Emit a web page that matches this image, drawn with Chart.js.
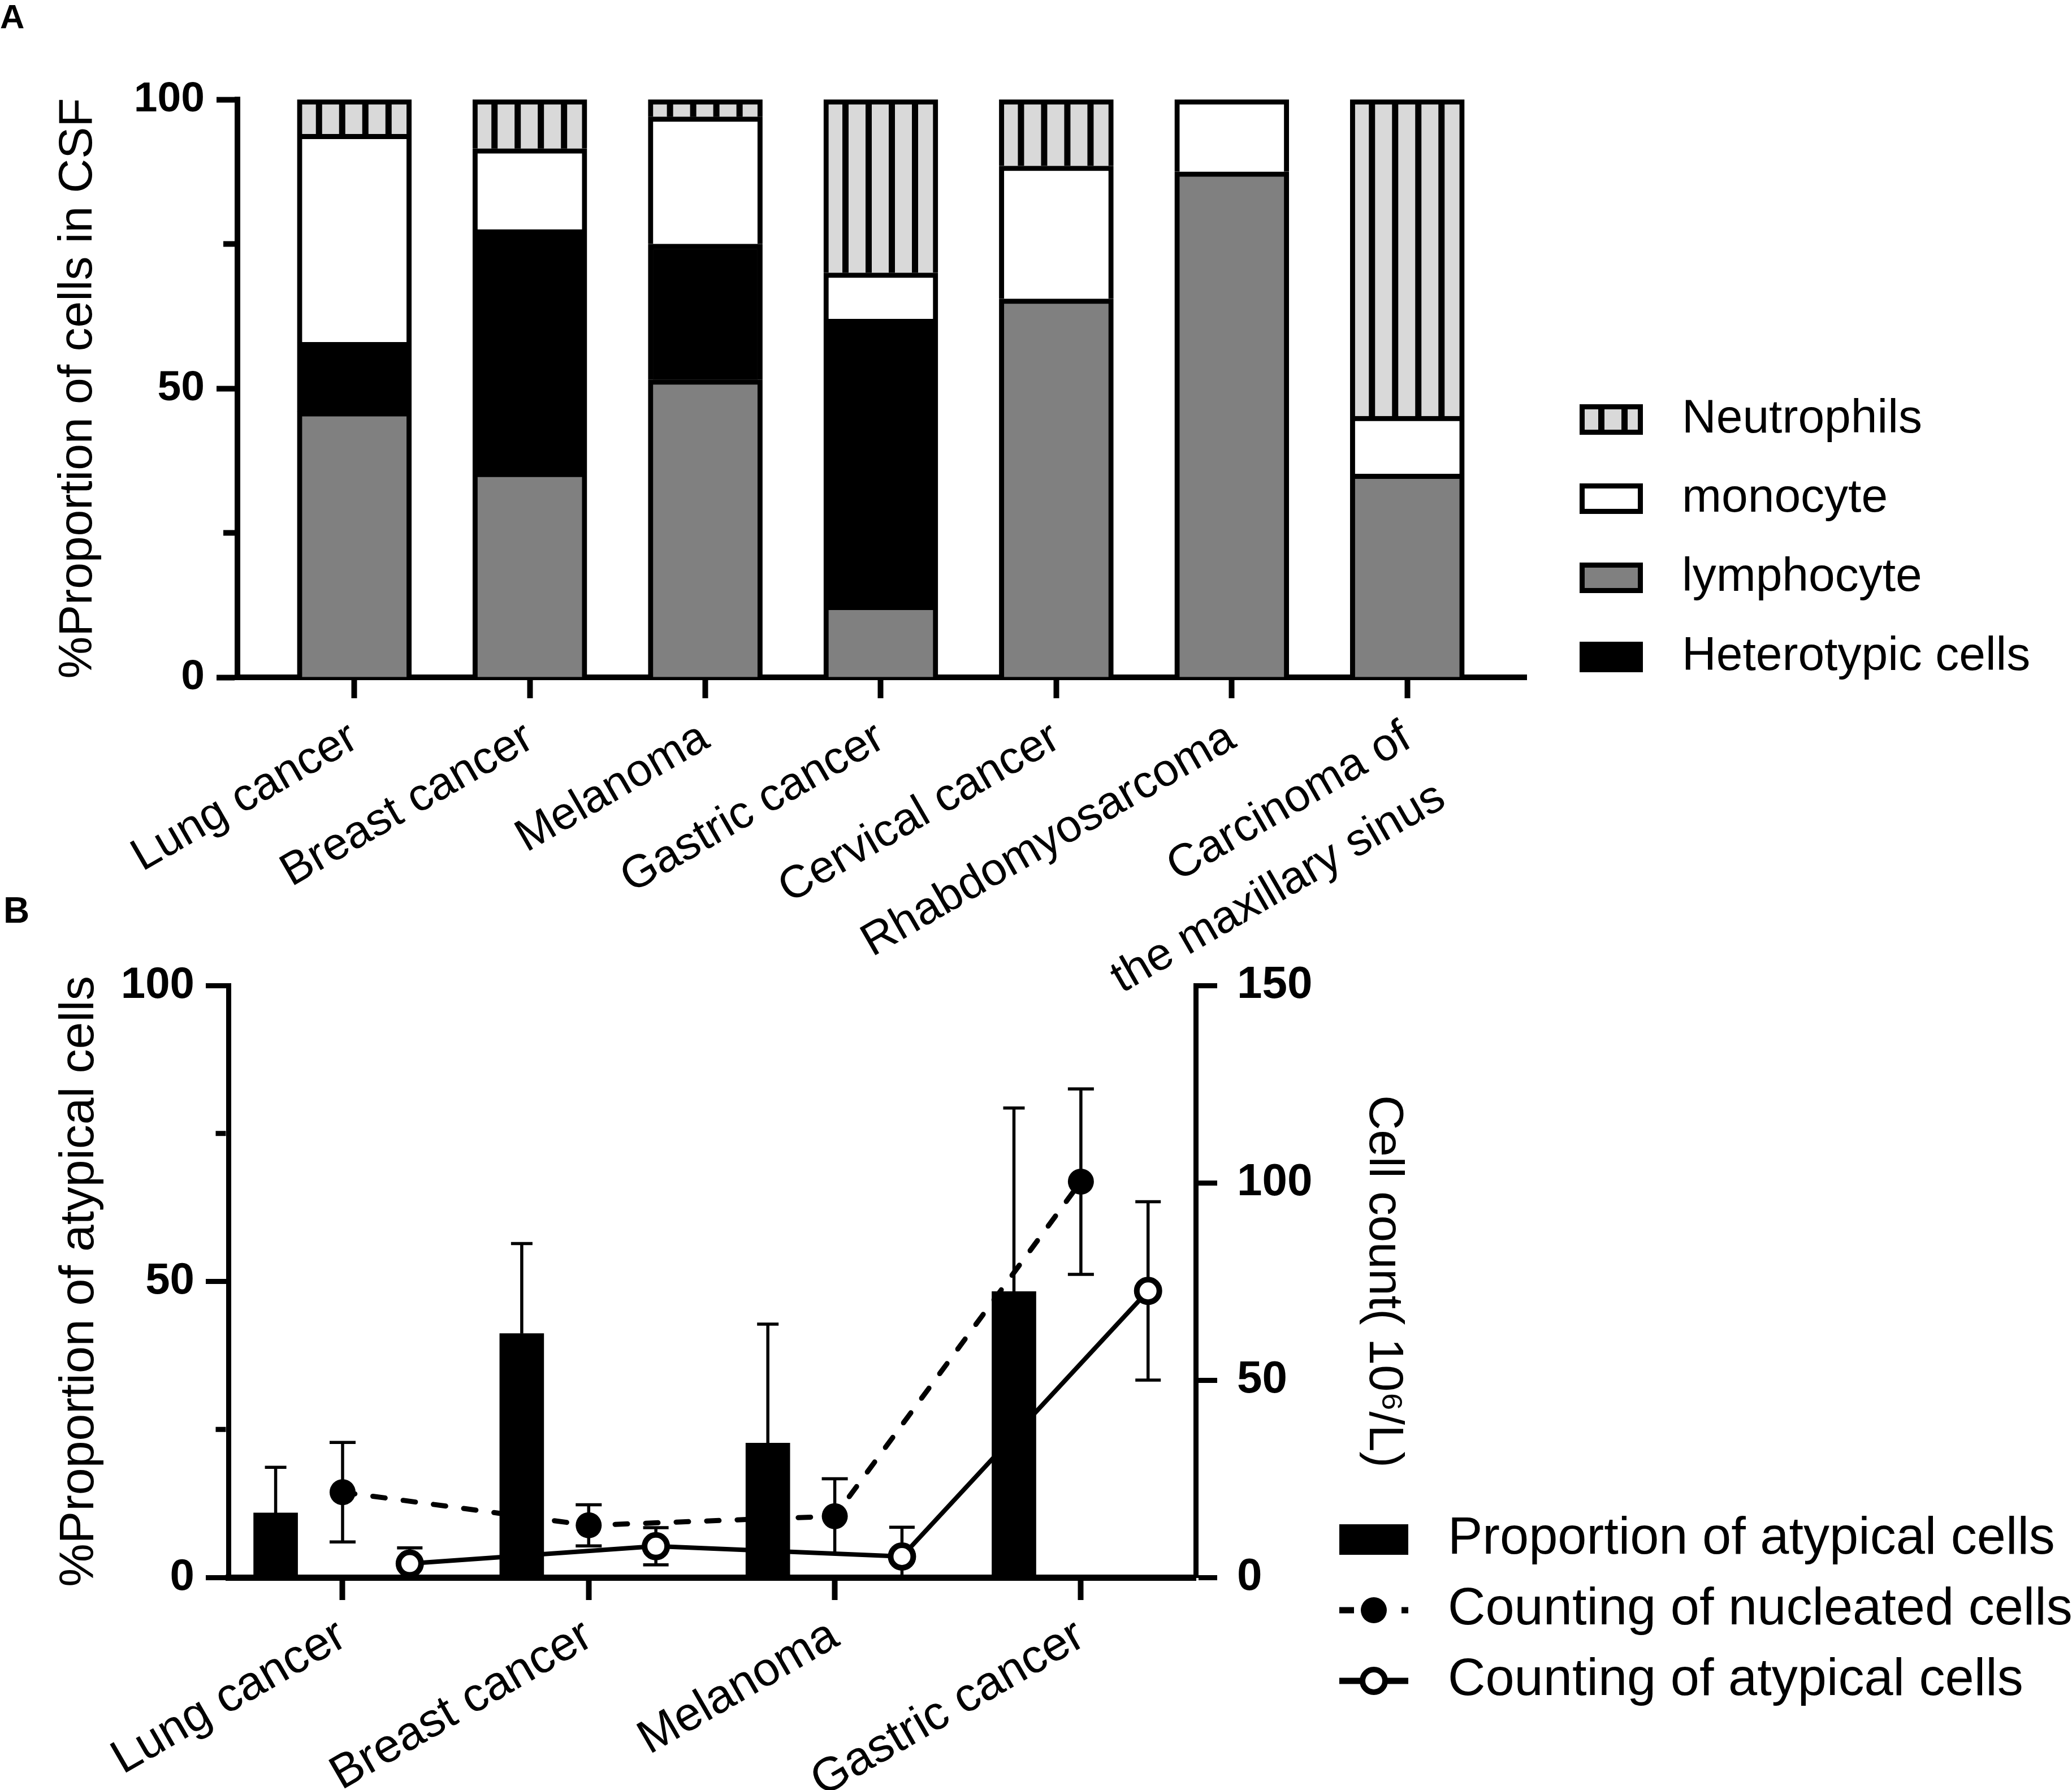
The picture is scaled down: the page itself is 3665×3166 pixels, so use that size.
<!DOCTYPE html>
<html lang="en">
<head>
<meta charset="UTF-8">
<title>Cells in CSF</title>
<script src="https://cdn.jsdelivr.net/npm/chart.js@4.4.1/dist/chart.umd.min.js"></script>
<style>
  html, body { margin: 0; padding: 0; background: #fff; }
  body { position: relative; width: 3665px; height: 3166px; overflow: hidden; font-family: "Liberation Sans", Arial, sans-serif; }
  canvas { position: absolute; left: 0; }
  #chartA { top: 0; }
  #chartB { top: 1560px; }
  .tag { position: absolute; font-weight: bold; line-height: 1; color: #000; }
  #tagA { left: 0; top: 0; font-size: 60px; }
  #tagB { left: 6px; top: 1578px; font-size: 64px; }
</style>
</head>
<body>
<div class="tag" id="tagA">A</div>
<div class="tag" id="tagB">B</div>
<canvas id="chartA" width="3665" height="1800"></canvas>
<canvas id="chartB" width="3665" height="1606"></canvas>
<script>
// ---- panel A data ----
const categoriesA = ['Lung cancer', 'Breast cancer', 'Melanoma', 'Gastric cancer', 'Cervical cancer', 'Rhabdomyosarcoma', ['Carcinoma of', 'the maxillary sinus']];
const lymphocyte = [46, 35.5, 51.5, 12.5, 65.5, 87.5, 35.2];
const heterotypic = [12, 42, 23.5, 49.5, 0, 0, 0];
const monocyte = [36, 14, 22, 8, 23, 12.5, 10];
const neutrophils = [6, 8.5, 3, 30, 11.5, 0, 54.8];
const yTicksA = [0, 50, 100];

// ---- panel B data ----
const categoriesB = ['Lung cancer', 'Breast cancer', 'Melanoma', 'Gastric cancer'];
const atypicalProportion = [10.9, 41.2, 22.7, 48.3];
const atypicalProportionSD = [7.7, 15.2, 20.1, 31.0];
const nucleatedCount = [21.6, 13.2, 15.5, 100.3];
const nucleatedCountSD = [12.6, 5.2, 9.5, 23.5];
const atypicalCount = [3.5, 7.9, 5.3, 72.6];
const atypicalCountSD = [4.0, 4.7, 7.4, 22.6];
const yTicksB = [0, 50, 100];
const y1TicksB = [0, 50, 100, 150];

const FONT = '"Liberation Sans", Arial, sans-serif';
Chart.defaults.font.family = FONT;
Chart.defaults.color = '#000';

const BAR_A = 202;          // bar width, panel A
const STRIPE_PERIOD = 41;
const STRIPE_BLACK = 11;
const BAR_SHIFT = -0.272;   // dodge inside each group, panel B
const ATYP_SHIFT = 0.273;

function stripeFill(ctx, left) {
    const tile = document.createElement('canvas');
    tile.width = STRIPE_PERIOD;
    tile.height = 8;
    const t = tile.getContext('2d');
    t.fillStyle = '#d9d9d9';
    t.fillRect(0, 0, STRIPE_PERIOD, 8);
    t.fillStyle = '#000';
    t.fillRect(0, 0, STRIPE_BLACK, 8);
    const p = ctx.createPattern(tile, 'repeat');
    if (isFinite(left)) p.setTransform(new DOMMatrix([1, 0, 0, 1, left, 0]));
    return p;
}

function neutrophilFill(c) {
    const xs = c.chart.scales.x;
    if (!xs || c.dataIndex === undefined) return '#d9d9d9';
    return stripeFill(c.chart.ctx, xs.getPixelForValue(c.dataIndex) - BAR_A / 2 + 33);
}

const xy = (arr, shift) => arr.map((v, i) => ({ x: i + shift, y: v }));
const fixTicks = (values) => (s) => { s.ticks = values.map(v => ({ value: v })); };

// short ticks half way between the labelled ones
const minorTicks = {
    id: 'minorTicks',
    afterDraw(chart, args, o) {
        if (!o.scale) return;
        const s = chart.scales[o.scale];
        const ctx = chart.ctx;
        ctx.save();
        ctx.strokeStyle = '#000';
        ctx.lineWidth = o.width;
        for (let i = 1; i < s.ticks.length; i++) {
            const v = (s.ticks[i - 1].value + s.ticks[i].value) / 2;
            const y = s.getPixelForValue(v);
            const x0 = chart.chartArea.left - o.axisHalf;
            ctx.beginPath();
            ctx.moveTo(x0, y);
            ctx.lineTo(x0 - o.length, y);
            ctx.stroke();
        }
        ctx.restore();
    }
};

const errorBars = {
    id: 'errorBars',
    beforeDatasetsDraw(chart) {
        const ctx = chart.ctx;
        chart.data.datasets.forEach((ds, di) => {
            if (!ds.errors) return;
            const meta = chart.getDatasetMeta(di);
            const ys = chart.scales[ds.yAxisID];
            ctx.save();
            ctx.strokeStyle = '#000';
            ctx.lineWidth = 5.5;
            ds.data.forEach((pt, i) => {
                const x = meta.data[i].x;
                const e = ds.errors[i];
                const hi = ys.getPixelForValue(pt.y + e);
                let loVal = ds.errorMode === 'both' ? pt.y - e : pt.y;
                const clipped = loVal < ys.min;
                loVal = Math.max(loVal, ys.min);
                const lo = ys.getPixelForValue(loVal);
                const hw = ds.capWidth / 2;
                ctx.beginPath();
                ctx.moveTo(x, hi);
                ctx.lineTo(x, lo);
                ctx.moveTo(x - hw, hi);
                ctx.lineTo(x + hw, hi);
                if (ds.errorMode === 'both' && !clipped) {
                    ctx.moveTo(x - hw, lo);
                    ctx.lineTo(x + hw, lo);
                }
                ctx.stroke();
            });
            ctx.restore();
        });
    }
};

const sideLegend = {
    id: 'sideLegend',
    afterDraw(chart, args, o) {
        if (!o.items) return;
        const ctx = chart.ctx;
        ctx.save();
        o.items.forEach((di, k) => {
            const ds = chart.data.datasets[di];
            const cy = o.top + k * o.rowGap;
            const x0 = o.symbolX, w = o.symbolW, h = o.symbolH;
            if (o.kind === 'box') {
                ctx.fillStyle = '#000';
                ctx.fillRect(x0, cy - h / 2, w, h);
                const b = o.border;
                const bg = typeof ds.backgroundColor === 'function'
                    ? stripeFill(ctx, x0 + b + 24) : ds.backgroundColor;
                ctx.fillStyle = bg;
                ctx.fillRect(x0 + b, cy - h / 2 + b, w - 2 * b, h - 2 * b);
            } else if (ds.type === 'line') {
                ctx.strokeStyle = '#000';
                ctx.lineWidth = o.lineWidth;
                ctx.setLineDash(ds.borderDash ? o.legendDash : []);
                ctx.beginPath();
                ctx.moveTo(x0, cy);
                ctx.lineTo(x0 + w, cy);
                ctx.stroke();
                ctx.setLineDash([]);
                ctx.beginPath();
                ctx.arc(x0 + w / 2, cy, ds.pointRadius, 0, Math.PI * 2);
                ctx.fillStyle = ds.pointBackgroundColor;
                ctx.fill();
                if (ds.pointBorderWidth) {
                    ctx.lineWidth = ds.pointBorderWidth;
                    ctx.stroke();
                }
            } else {
                ctx.fillStyle = ds.backgroundColor;
                ctx.fillRect(x0, cy - h / 2, w, h);
            }
            ctx.fillStyle = '#000';
            ctx.font = o.fontSize + 'px ' + FONT;
            ctx.textAlign = 'left';
            ctx.textBaseline = 'middle';
            ctx.fillText(ds.label, o.textX, cy);
        });
        ctx.restore();
    }
};

const blackGrid = (len, w) => ({
    display: true, drawOnChartArea: false, drawTicks: true, offset: false,
    tickLength: len, tickWidth: w, tickColor: '#000', color: '#000'
});

// ---- panel A ----
new Chart(document.getElementById('chartA'), {
    type: 'bar',
    data: {
        datasets: [
            { label: 'lymphocyte', data: xy(lymphocyte, 0), backgroundColor: '#808080' },
            { label: 'Heterotypic cells', data: xy(heterotypic, 0), backgroundColor: '#000000' },
            { label: 'monocyte', data: xy(monocyte, 0), backgroundColor: '#ffffff' },
            { label: 'Neutrophils', data: xy(neutrophils, 0), backgroundColor: neutrophilFill }
        ]
    },
    options: {
        responsive: false,
        animation: false,
        layout: { padding: { top: 176, right: 965, left: 0, bottom: 0 } },
        datasets: { bar: { barThickness: BAR_A, borderColor: '#000', borderWidth: 9, borderSkipped: 'start' } },
        plugins: {
            legend: { display: false },
            tooltip: { enabled: false },
            minorTicks: { scale: 'y', length: 20, width: 10, axisHalf: 5 },
            sideLegend: {
                kind: 'box', items: [3, 2, 0, 1], top: 742, rowGap: 140,
                symbolX: 2794, symbolW: 112, symbolH: 54, border: 9,
                textX: 2975, fontSize: 84
            }
        },
        scales: {
            x: {
                type: 'linear', stacked: true, offset: false,
                min: -0.666, max: 6.679,
                afterBuildTicks: s => { s.ticks = categoriesA.map((c, i) => ({ value: i })); },
                afterFit: s => { s.height = 602; },
                ticks: {
                    callback: v => categoriesA[v],
                    autoSkip: false, minRotation: 30, maxRotation: 30,
                    padding: 12, font: { size: 81, lineHeight: 1.5 }
                },
                grid: blackGrid(37, 10),
                border: { display: true, width: 10, color: '#000' }
            },
            y: {
                stacked: true, min: 0, max: 100,
                afterBuildTicks: fixTicks(yTicksA),
                afterFit: s => { s.width = 420; },
                ticks: { padding: 21, font: { size: 75, weight: 'bold' } },
                grid: blackGrid(37, 10),
                border: { display: true, width: 10, color: '#000' },
                title: { display: true, text: '%Proportion of cells in CSF', font: { size: 84 }, padding: { top: 88 } }
            }
        }
    },
    plugins: [minorTicks, sideLegend]
});

// ---- panel B ----
new Chart(document.getElementById('chartB'), {
    type: 'bar',
    data: {
        datasets: [
            {
                type: 'line', label: 'Counting of atypical cells', data: xy(atypicalCount, ATYP_SHIFT),
                yAxisID: 'y1', borderColor: '#000', borderWidth: 8, order: 1,
                pointRadius: 20, pointBorderWidth: 10, pointBackgroundColor: '#fff', pointBorderColor: '#000',
                errors: atypicalCountSD, errorMode: 'both', capWidth: 45
            },
            {
                type: 'line', label: 'Counting of nucleated cells', data: xy(nucleatedCount, 0),
                yAxisID: 'y1', borderColor: '#000', borderWidth: 9, borderDash: [22, 32], borderCapStyle: 'round', order: 2,
                pointRadius: 23, pointBorderWidth: 0, pointBackgroundColor: '#000', pointBorderColor: '#000',
                errors: nucleatedCountSD, errorMode: 'both', capWidth: 46
            },
            {
                type: 'bar', label: 'Proportion of atypical cells', data: xy(atypicalProportion, BAR_SHIFT),
                yAxisID: 'y', backgroundColor: '#000', barThickness: 78, order: 3,
                errors: atypicalProportionSD, errorMode: 'up', capWidth: 38
            }
        ]
    },
    options: {
        responsive: false,
        animation: false,
        layout: { padding: { top: 183, right: 0, left: 0, bottom: 0 } },
        plugins: {
            legend: { display: false },
            tooltip: { enabled: false },
            minorTicks: { scale: 'y', length: 18, width: 9, axisHalf: 4.5 },
            sideLegend: {
                kind: 'mixed', items: [2, 1, 0], top: 1163, rowGap: 125,
                symbolX: 2369, symbolW: 122, symbolH: 54, lineWidth: 11, legendDash: [26, 84],
                textX: 2561, fontSize: 92
            }
        },
        scales: {
            x: {
                type: 'linear', offset: false,
                min: -0.464, max: 3.4666,
                afterBuildTicks: s => { s.ticks = categoriesB.map((c, i) => ({ value: i })); },
                afterFit: s => { s.height = 376; },
                ticks: {
                    callback: v => categoriesB[v],
                    autoSkip: false, minRotation: 30, maxRotation: 30,
                    padding: 14, font: { size: 84 }
                },
                grid: blackGrid(40, 10),
                border: { display: true, width: 11, color: '#000' }
            },
            y: {
                position: 'left', min: 0, max: 100,
                afterBuildTicks: fixTicks(yTicksB),
                afterFit: s => { s.width = 404; },
                ticks: { padding: 20, font: { size: 78, weight: 'bold' } },
                grid: blackGrid(40, 9),
                border: { display: true, width: 9, color: '#000' },
                title: { display: true, text: '%Proportion of atypical cells', font: { size: 86 }, padding: { top: 90 } }
            },
            y1: {
                position: 'right', min: 0, max: 150,
                afterBuildTicks: fixTicks(y1TicksB),
                afterFit: s => { s.width = 1550; },
                ticks: { padding: 35, font: { size: 80, weight: 'bold' } },
                grid: blackGrid(38, 9),
                border: { display: true, width: 9, color: '#000' },
                title: { display: true, text: 'Cell count( 10\u2076/L)', font: { size: 85 }, padding: { top: 1168 } }
            }
        }
    },
    plugins: [errorBars, minorTicks, sideLegend]
});
</script>
</body>
</html>
